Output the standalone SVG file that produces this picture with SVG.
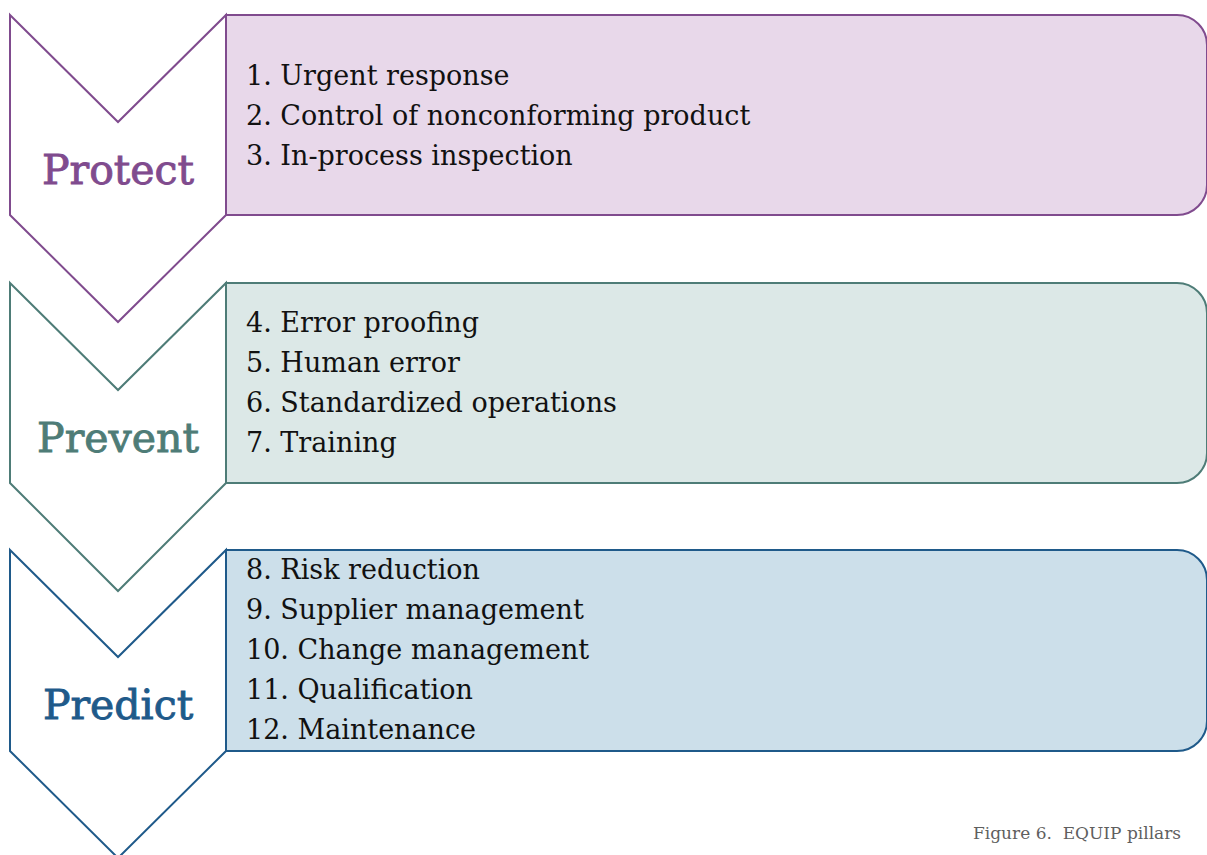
<svg xmlns="http://www.w3.org/2000/svg" width="1207" height="855" viewBox="0 0 1207 855">
<style>
.item{font-family:"DejaVu Serif","Liberation Serif",serif;font-size:27px;fill:#111}
.title{font-family:"DejaVu Serif","Liberation Serif",serif;font-size:41px;text-anchor:middle;stroke-width:0.9}
.cap{font-family:"DejaVu Serif","Liberation Serif",serif;font-size:17px;fill:#5f5f5f;white-space:pre}
</style>
<rect width="1207" height="855" fill="#fff"/>
<g id="protect">
<path d="M226,15 H1177 A30,30 0 0 1 1207,45 V185 A30,30 0 0 1 1177,215 H226 Z" fill="#E8D8EA" stroke="#804B8E" stroke-width="2"/>
<path d="M10,15 L118,122 L226,15 V215 L118,322 L10,215 Z" fill="#fff" stroke="#804B8E" stroke-width="2" stroke-linejoin="miter"/>
<text class="title" x="118" y="184" fill="#804B8E" stroke="#804B8E">Protect</text>
<text class="item" x="246" y="85">1. Urgent response</text>
<text class="item" x="246" y="125">2. Control of nonconforming product</text>
<text class="item" x="246" y="165">3. In-process inspection</text>
</g>
<g id="prevent">
<path d="M226,283 H1177 A30,30 0 0 1 1207,313 V453 A30,30 0 0 1 1177,483 H226 Z" fill="#DCE8E7" stroke="#4E7C77" stroke-width="2"/>
<path d="M10,283 L118,390 L226,283 V483 L118,591 L10,483 Z" fill="#fff" stroke="#4E7C77" stroke-width="2"/>
<text class="title" x="118" y="452" fill="#4E7C77" stroke="#4E7C77">Prevent</text>
<text class="item" x="246" y="332">4. Error proofing</text>
<text class="item" x="246" y="372">5. Human error</text>
<text class="item" x="246" y="412">6. Standardized operations</text>
<text class="item" x="246" y="452">7. Training</text>
</g>
<g id="predict">
<path d="M226,550 H1177 A30,30 0 0 1 1207,580 V721 A30,30 0 0 1 1177,751 H226 Z" fill="#CCDFEA" stroke="#1F5A8A" stroke-width="2"/>
<path d="M10,550 L118,657 L226,550 V751 L118,858 L10,751 Z" fill="#fff" stroke="#1F5A8A" stroke-width="2"/>
<text class="title" x="118" y="719" fill="#1F5A8A" stroke="#1F5A8A">Predict</text>
<text class="item" x="246" y="579">8. Risk reduction</text>
<text class="item" x="246" y="619">9. Supplier management</text>
<text class="item" x="246" y="659">10. Change management</text>
<text class="item" x="246" y="699">11. Qualification</text>
<text class="item" x="246" y="739">12. Maintenance</text>
</g>
<g id="connectors"/>
<text class="cap" x="973" y="839" xml:space="preserve">Figure 6.  EQUIP pillars</text>
</svg>
